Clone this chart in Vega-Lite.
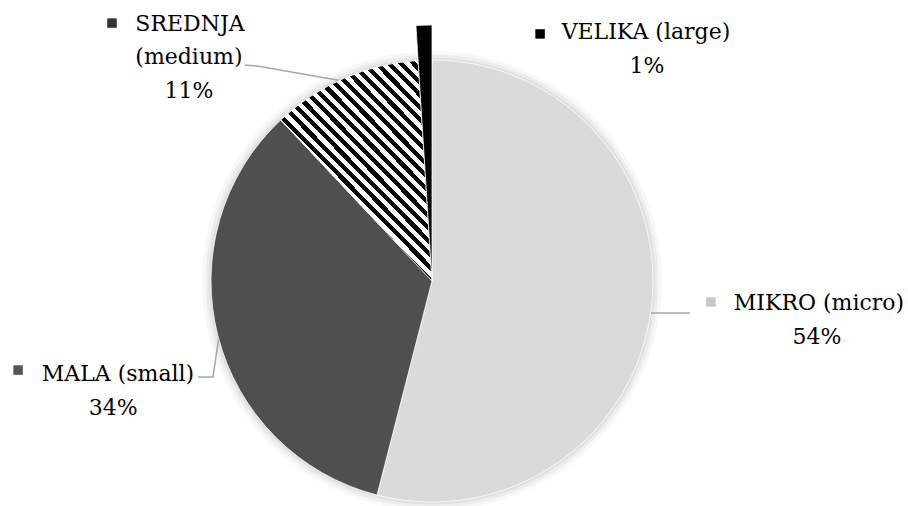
{
  "$schema": "https://vega.github.io/schema/vega-lite/v6.json",
  "width": 864,
  "height": 450,
  "autosize": {"type": "none"},
  "padding": {"left": 0, "top": 56, "right": 44, "bottom": 0},
  "background": "white",
  "config": {"view": {"stroke": null}},
  "datasets": {
    "slices": [
      {"size": "MIKRO", "pct": 54, "idx": 1},
      {"size": "MALA", "pct": 34, "idx": 2},
      {"size": "SREDNJA", "pct": 11, "idx": 3},
      {"size": "VELIKA", "pct": 1, "idx": 4}
    ],
    "labels": [
      {"text": "SREDNJA", "lx": -1.095, "ly": 1.165},
      {"text": "(medium)", "lx": -1.100, "ly": 1.012},
      {"text": "11%", "lx": -1.100, "ly": 0.860},
      {"text": "VELIKA (large)", "lx": 0.968, "ly": 1.127},
      {"text": "1%", "lx": 0.973, "ly": 0.975},
      {"text": "MIKRO (micro)", "lx": 1.751, "ly": -0.100},
      {"text": "54%", "lx": 1.742, "ly": -0.255},
      {"text": "MALA (small)", "lx": -1.421, "ly": -0.420},
      {"text": "34%", "lx": -1.443, "ly": -0.575}
    ],
    "leaders": [
      {"id": "S", "seq": 1, "lx": -0.846, "ly": 0.977},
      {"id": "S", "seq": 2, "lx": -0.792, "ly": 0.973},
      {"id": "S", "seq": 3, "lx": -0.403, "ly": 0.905},
      {"id": "M", "seq": 1, "lx": -1.059, "ly": -0.434},
      {"id": "M", "seq": 2, "lx": -0.991, "ly": -0.434},
      {"id": "M", "seq": 3, "lx": -0.964, "ly": -0.249},
      {"id": "K", "seq": 1, "lx": 0.991, "ly": -0.145},
      {"id": "K", "seq": 2, "lx": 1.167, "ly": -0.145}
    ],
    "keys": [
      {"size": "SREDNJA", "lx": -1.448, "ly": 1.167},
      {"size": "VELIKA", "lx": 0.489, "ly": 1.118},
      {"size": "MIKRO", "lx": 1.262, "ly": -0.095},
      {"size": "MALA", "lx": -1.873, "ly": -0.403}
    ]
  },
  "layer": [
    {
      "data": {"name": "slices"},
      "mark": {"type": "arc", "outerRadius": 230, "fill": "#000000", "opacity": 0.03},
      "encoding": {
        "theta": {"field": "pct", "type": "quantitative", "stack": true},
        "order": {"field": "idx", "type": "quantitative"}
      }
    },
    {
      "data": {"name": "slices"},
      "mark": {"type": "arc", "outerRadius": 226.5, "fill": "#000000", "opacity": 0.04},
      "encoding": {
        "theta": {"field": "pct", "type": "quantitative", "stack": true},
        "order": {"field": "idx", "type": "quantitative"}
      }
    },
    {
      "data": {"name": "slices"},
      "mark": {"type": "arc", "outerRadius": 223.5, "fill": "#000000", "opacity": 0.05},
      "encoding": {
        "theta": {"field": "pct", "type": "quantitative", "stack": true},
        "order": {"field": "idx", "type": "quantitative"}
      }
    },
    {
      "data": {"name": "leaders"},
      "mark": {"type": "line", "color": "#a6a6a6", "strokeWidth": 1.5},
      "encoding": {
        "x": {"field": "lx", "type": "quantitative", "scale": {"domain": [-1.9548, 1.9548], "nice": false, "zero": false}, "axis": null},
        "y": {"field": "ly", "type": "quantitative", "scale": {"domain": [-1.0181, 1.0181], "nice": false, "zero": false}, "axis": null},
        "detail": {"field": "id"},
        "order": {"field": "seq", "type": "quantitative"}
      }
    },
    {
      "data": {"name": "slices"},
      "mark": {"type": "arc", "outerRadius": {"expr": "datum.size === 'VELIKA' ? 256 : 221"}, "stroke": "#ffffff", "strokeWidth": 0.75},
      "encoding": {
        "theta": {"field": "pct", "type": "quantitative", "stack": true},
        "order": {"field": "idx", "type": "quantitative"},
        "detail": {"field": "size"},
        "fill": {
          "condition": [
            {"test": "datum.size === 'MIKRO'", "value": "#dadada"},
            {"test": "datum.size === 'MALA'", "value": "#4f4f4f"},
            {"test": "datum.size === 'SREDNJA'", "value": {
              "gradient": "linear", "x1": 0, "y1": 1, "x2": 0.795, "y2": -0.143,
              "stops": [
                {"offset": 0, "color": "#000"}, {"offset": 0.01667, "color": "#000"}, {"offset": 0.01667, "color": "#fff"}, {"offset": 0.03333, "color": "#fff"},
                {"offset": 0.03333, "color": "#000"}, {"offset": 0.05, "color": "#000"}, {"offset": 0.05, "color": "#fff"}, {"offset": 0.06667, "color": "#fff"},
                {"offset": 0.06667, "color": "#000"}, {"offset": 0.08333, "color": "#000"}, {"offset": 0.08333, "color": "#fff"}, {"offset": 0.1, "color": "#fff"},
                {"offset": 0.1, "color": "#000"}, {"offset": 0.11667, "color": "#000"}, {"offset": 0.11667, "color": "#fff"}, {"offset": 0.13333, "color": "#fff"},
                {"offset": 0.13333, "color": "#000"}, {"offset": 0.15, "color": "#000"}, {"offset": 0.15, "color": "#fff"}, {"offset": 0.16667, "color": "#fff"},
                {"offset": 0.16667, "color": "#000"}, {"offset": 0.18333, "color": "#000"}, {"offset": 0.18333, "color": "#fff"}, {"offset": 0.2, "color": "#fff"},
                {"offset": 0.2, "color": "#000"}, {"offset": 0.21667, "color": "#000"}, {"offset": 0.21667, "color": "#fff"}, {"offset": 0.23333, "color": "#fff"},
                {"offset": 0.23333, "color": "#000"}, {"offset": 0.25, "color": "#000"}, {"offset": 0.25, "color": "#fff"}, {"offset": 0.26667, "color": "#fff"},
                {"offset": 0.26667, "color": "#000"}, {"offset": 0.28333, "color": "#000"}, {"offset": 0.28333, "color": "#fff"}, {"offset": 0.3, "color": "#fff"},
                {"offset": 0.3, "color": "#000"}, {"offset": 0.31667, "color": "#000"}, {"offset": 0.31667, "color": "#fff"}, {"offset": 0.33333, "color": "#fff"},
                {"offset": 0.33333, "color": "#000"}, {"offset": 0.35, "color": "#000"}, {"offset": 0.35, "color": "#fff"}, {"offset": 0.36667, "color": "#fff"},
                {"offset": 0.36667, "color": "#000"}, {"offset": 0.38333, "color": "#000"}, {"offset": 0.38333, "color": "#fff"}, {"offset": 0.4, "color": "#fff"},
                {"offset": 0.4, "color": "#000"}, {"offset": 0.41667, "color": "#000"}, {"offset": 0.41667, "color": "#fff"}, {"offset": 0.43333, "color": "#fff"},
                {"offset": 0.43333, "color": "#000"}, {"offset": 0.45, "color": "#000"}, {"offset": 0.45, "color": "#fff"}, {"offset": 0.46667, "color": "#fff"},
                {"offset": 0.46667, "color": "#000"}, {"offset": 0.48333, "color": "#000"}, {"offset": 0.48333, "color": "#fff"}, {"offset": 0.5, "color": "#fff"},
                {"offset": 0.5, "color": "#000"}, {"offset": 0.51667, "color": "#000"}, {"offset": 0.51667, "color": "#fff"}, {"offset": 0.53333, "color": "#fff"},
                {"offset": 0.53333, "color": "#000"}, {"offset": 0.55, "color": "#000"}, {"offset": 0.55, "color": "#fff"}, {"offset": 0.56667, "color": "#fff"},
                {"offset": 0.56667, "color": "#000"}, {"offset": 0.58333, "color": "#000"}, {"offset": 0.58333, "color": "#fff"}, {"offset": 0.6, "color": "#fff"},
                {"offset": 0.6, "color": "#000"}, {"offset": 0.61667, "color": "#000"}, {"offset": 0.61667, "color": "#fff"}, {"offset": 0.63333, "color": "#fff"},
                {"offset": 0.63333, "color": "#000"}, {"offset": 0.65, "color": "#000"}, {"offset": 0.65, "color": "#fff"}, {"offset": 0.66667, "color": "#fff"},
                {"offset": 0.66667, "color": "#000"}, {"offset": 0.68333, "color": "#000"}, {"offset": 0.68333, "color": "#fff"}, {"offset": 0.7, "color": "#fff"},
                {"offset": 0.7, "color": "#000"}, {"offset": 0.71667, "color": "#000"}, {"offset": 0.71667, "color": "#fff"}, {"offset": 0.73333, "color": "#fff"},
                {"offset": 0.73333, "color": "#000"}, {"offset": 0.75, "color": "#000"}, {"offset": 0.75, "color": "#fff"}, {"offset": 0.76667, "color": "#fff"},
                {"offset": 0.76667, "color": "#000"}, {"offset": 0.78333, "color": "#000"}, {"offset": 0.78333, "color": "#fff"}, {"offset": 0.8, "color": "#fff"},
                {"offset": 0.8, "color": "#000"}, {"offset": 0.81667, "color": "#000"}, {"offset": 0.81667, "color": "#fff"}, {"offset": 0.83333, "color": "#fff"},
                {"offset": 0.83333, "color": "#000"}, {"offset": 0.85, "color": "#000"}, {"offset": 0.85, "color": "#fff"}, {"offset": 0.86667, "color": "#fff"},
                {"offset": 0.86667, "color": "#000"}, {"offset": 0.88333, "color": "#000"}, {"offset": 0.88333, "color": "#fff"}, {"offset": 0.9, "color": "#fff"},
                {"offset": 0.9, "color": "#000"}, {"offset": 0.91667, "color": "#000"}, {"offset": 0.91667, "color": "#fff"}, {"offset": 0.93333, "color": "#fff"},
                {"offset": 0.93333, "color": "#000"}, {"offset": 0.95, "color": "#000"}, {"offset": 0.95, "color": "#fff"}, {"offset": 0.96667, "color": "#fff"},
                {"offset": 0.96667, "color": "#000"}, {"offset": 0.98333, "color": "#000"}, {"offset": 0.98333, "color": "#fff"}, {"offset": 1, "color": "#fff"}
              ]
            }}
          ],
          "value": "#000000"
        }
      }
    },
    {
      "data": {"name": "labels"},
      "mark": {"type": "text", "font": "DejaVu Serif", "fontSize": 22, "color": "#000000", "align": "center", "baseline": "middle"},
      "encoding": {
        "x": {"field": "lx", "type": "quantitative", "scale": {"domain": [-1.9548, 1.9548], "nice": false, "zero": false}, "axis": null},
        "y": {"field": "ly", "type": "quantitative", "scale": {"domain": [-1.0181, 1.0181], "nice": false, "zero": false}, "axis": null},
        "text": {"field": "text"}
      }
    },
    {
      "data": {"name": "keys"},
      "mark": {"type": "point", "shape": "square", "filled": true, "size": 90, "opacity": 1},
      "encoding": {
        "x": {"field": "lx", "type": "quantitative", "scale": {"domain": [-1.9548, 1.9548], "nice": false, "zero": false}, "axis": null},
        "y": {"field": "ly", "type": "quantitative", "scale": {"domain": [-1.0181, 1.0181], "nice": false, "zero": false}, "axis": null},
        "fill": {
          "condition": [
            {"test": "datum.size === 'MIKRO'", "value": "#c8c8c8"},
            {"test": "datum.size === 'MALA'", "value": "#555555"},
            {"test": "datum.size === 'SREDNJA'", "value": "#333333"}
          ],
          "value": "#000000"
        }
      }
    }
  ]
}
